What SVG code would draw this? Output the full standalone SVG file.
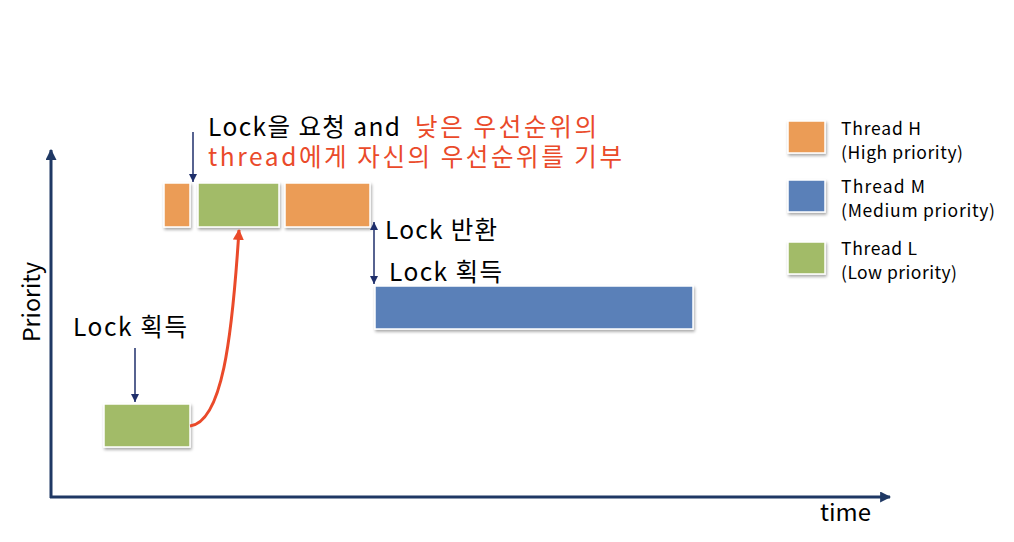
<svg xmlns="http://www.w3.org/2000/svg" width="1014" height="542" viewBox="0 0 1014 542">
<defs>
<style>
.t{font-family:"Noto Sans CJK KR","Noto Sans",sans-serif;fill:#000}
.big{font-size:24.5px}
.red{fill:#EA4A2A}
.leg{font-size:17.5px}
.box{stroke:#fff;stroke-width:1.5;filter:url(#sh)}
.o{fill:#EB9C57}.g{fill:#A2BB68}.b{fill:#5A80B8}
.ax{stroke:#1F3864;stroke-width:3;fill:none}
.ar{stroke:#1F2F6B;stroke-width:1.5;fill:none}
</style>
<filter id="sh" x="-10%" y="-10%" width="130%" height="140%"><feDropShadow dx="1" dy="2" stdDeviation="1.5" flood-color="#000" flood-opacity="0.35"/></filter>
<marker id="ah" viewBox="0 0 10 10" refX="10" refY="5" markerWidth="8" markerHeight="8" orient="auto-start-reverse" markerUnits="userSpaceOnUse"><path d="M0,0L10,5L0,10z" fill="#1F2F6B"/></marker>
<marker id="axh" viewBox="0 0 10 10" refX="9" refY="5" markerWidth="11" markerHeight="11" orient="auto" markerUnits="userSpaceOnUse"><path d="M0,0L10,5L0,10z" fill="#1F3864"/></marker>
<marker id="rh" viewBox="0 0 10 10" refX="9" refY="5" markerWidth="11" markerHeight="11" orient="auto" markerUnits="userSpaceOnUse"><path d="M0,0L10,5L0,10z" fill="#EA4A2A"/></marker>
</defs>
<rect width="1014" height="542" fill="#fff"/>
<g id="axes">
<line class="ax" x1="51" y1="498" x2="51" y2="150" marker-end="url(#axh)"/>
<line class="ax" x1="50" y1="497" x2="890" y2="497" marker-end="url(#axh)"/>
<text class="t" font-size="23.5" transform="translate(40,302) rotate(-90)" text-anchor="middle" textLength="80" lengthAdjust="spacingAndGlyphs">Priority</text>
<text class="t" font-size="23" x="820" y="521" textLength="51" lengthAdjust="spacingAndGlyphs">time</text>
</g>
<g id="h1"><rect class="box o" x="164" y="183" width="26" height="44"/></g>
<g id="l2"><rect class="box g" x="198" y="183" width="81" height="44"/></g>
<g id="h2"><rect class="box o" x="285" y="183" width="85" height="44"/></g>
<g id="m1"><rect class="box b" x="375" y="286" width="318" height="43"/></g>
<g id="l1"><rect class="box g" x="104" y="404" width="86" height="43"/></g>
<g id="connectors">
<line class="ar" x1="193" y1="132" x2="193" y2="182" marker-end="url(#ah)"/>
<line class="ar" x1="374" y1="222" x2="374" y2="284" marker-start="url(#ah)" marker-end="url(#ah)"/>
<line class="ar" x1="135" y1="348" x2="135" y2="402" marker-end="url(#ah)"/>
<path d="M190,426 C222,422 232,340 239,230" stroke="#EA4A2A" stroke-width="3" fill="none" marker-end="url(#rh)"/>
</g>
<g id="labels">
<text class="t big" x="208" y="136" textLength="192" lengthAdjust="spacing">Lock을 요청 and</text>
<text class="t big red" x="415" y="136" textLength="182" lengthAdjust="spacing">낮은 우선순위의</text>
<text class="t big red" x="208" y="166" textLength="414" lengthAdjust="spacing">thread에게 자신의 우선순위를 기부</text>
<text class="t big" x="385" y="239" textLength="112" lengthAdjust="spacing">Lock 반환</text>
<text class="t big" x="389" y="281" textLength="113" lengthAdjust="spacing">Lock 획득</text>
<text class="t big" x="73" y="336" textLength="114" lengthAdjust="spacing">Lock 획득</text>
</g>
<g id="legend">
<g id="legH"><rect class="box o" x="788" y="121" width="37" height="32"/>
<text class="t leg" x="841" y="135" textLength="80" lengthAdjust="spacing">Thread H</text><text class="t leg" x="841" y="159" textLength="122" lengthAdjust="spacing">(High priority)</text></g>
<g id="legM"><rect class="box b" x="788" y="180" width="37" height="32"/>
<text class="t leg" x="841" y="193" textLength="84" lengthAdjust="spacing">Thread M</text><text class="t leg" x="841" y="217" textLength="154" lengthAdjust="spacing">(Medium priority)</text></g>
<g id="legL"><rect class="box g" x="788" y="242" width="37" height="32"/>
<text class="t leg" x="841" y="255" textLength="76" lengthAdjust="spacing">Thread L</text><text class="t leg" x="841" y="279" textLength="116" lengthAdjust="spacing">(Low priority)</text></g>
</g>
</svg>
